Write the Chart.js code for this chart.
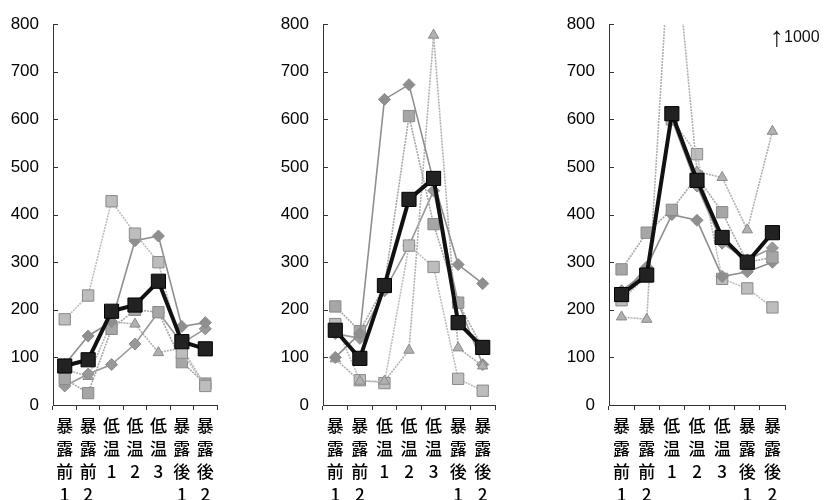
<!DOCTYPE html>
<html>
<head>
<meta charset="utf-8">
<script src="https://cdn.jsdelivr.net/npm/chart.js@4.4.0/dist/chart.umd.min.js"></script>
<style>
  html, body { margin: 0; padding: 0; background: #fff; }
  body { width: 828px; height: 500px; position: relative; overflow: hidden; }
  canvas { position: absolute; top: 0; }
  #note { position: absolute; left: 770px; top: 22px; color: #111; font-family: 'Liberation Sans', Arial, sans-serif; white-space: nowrap; }
  #note .arr { font-size: 28px; line-height: 30px; vertical-align: -4px; }
  #note .num { font-size: 16px; }
</style>
</head>
<body>
<canvas id="c1" width="228" height="500" style="left:0px"></canvas>
<canvas id="c2" width="236" height="500" style="left:270px"></canvas>
<canvas id="c3" width="240" height="500" style="left:556px"></canvas>
<div id="note"><span class="arr">↑</span><span class="num">1000</span></div>
<script>
// categories (one character per line, as in the original)
const categories = ['暴露前1', '暴露前2', '低温1', '低温2', '低温3', '暴露後1', '暴露後2'];
const yTicks = [0, 100, 200, 300, 400, 500, 600, 700, 800];

// panel 1
const p1Mean = [82, 95, 197, 210, 260, 133, 118];
const p1A = [180, 230, 428, 360, 300, 110, 40];
const p1B = [85, 145, 175, 345, 355, 165, 173];
const p1C = [55, 25, 160, 200, 195, 90, 45];
const p1D = [40, 65, 85, 128, 195, 130, 160];
const p1E = [75, 60, 175, 170, 110, 120, 40];

// panel 2
const p2Mean = [157, 98, 251, 432, 476, 173, 121];
const p2A = [100, 150, 642, 673, 470, 295, 255];
const p2B = [207, 155, 250, 607, 380, 215, 120];
const p2C = [97, 50, 50, 115, 777, 120, 82];
const p2D = [170, 52, 46, 335, 290, 55, 30];
const p2E = [150, 140, 240, 335, 450, 215, 85];

// panel 3 (one subject goes past the top, about 1000)
const p3Mean = [232, 273, 612, 472, 352, 300, 362];
const p3A = [185, 180, 1050, 490, 478, 368, 575];
const p3B = [285, 362, 410, 480, 405, 300, 310];
const p3C = [230, 290, 400, 388, 270, 280, 300];
const p3D = [220, 270, 600, 527, 265, 245, 205];
const p3E = [240, 280, 600, 460, 340, 305, 330];

const numFont = "'Liberation Sans', Arial, sans-serif";
const cjkFont = "'Noto Sans CJK JP', 'Noto Sans CJK SC', sans-serif";

const styles = [
  { color: '#bdbdbd', point: 'rect', r: 8, dash: [2, 1] },
  { color: '#8f8f8f', point: 'rectRot', r: 6, dash: [] },
  { color: '#a6a6a6', point: 'rect', r: 8, dash: [2, 1] },
  { color: '#999999', point: 'rectRot', r: 6, dash: [] },
  { color: '#b0b0b0', point: 'triangle', r: 6, dash: [2, 1] },
];

// y ticks point inward, into the plot
const innerTicks = {
  id: 'innerTicks',
  afterDraw(chart) {
    const y = chart.scales.y, ctx = chart.ctx, x0 = chart.chartArea.left;
    ctx.save();
    ctx.strokeStyle = '#333';
    ctx.lineWidth = 1;
    y.ticks.forEach(t => {
      const py = Math.round(y.getPixelForValue(t.value)) + 0.5;
      ctx.beginPath();
      ctx.moveTo(x0, py);
      ctx.lineTo(x0 + 5, py);
      ctx.stroke();
    });
    ctx.restore();
  }
};

function makePanel(id, mean, series, greyStyles) {
  const datasets = [{
    data: mean,
    borderColor: '#111',
    backgroundColor: '#222',
    borderWidth: 4,
    pointStyle: 'rect',
    pointRadius: 10,
    pointBorderColor: '#000',
    pointBorderWidth: 1,
    tension: 0,
  }];
  series.forEach((s, i) => {
    const st = greyStyles[i];
    datasets.push({
      data: s,
      borderColor: st.color,
      backgroundColor: st.color,
      borderWidth: 1.6,
      borderDash: st.dash,
      pointStyle: st.point,
      pointRadius: st.r,
      pointBorderColor: '#8a8a8a',
      pointBorderWidth: 1,
      tension: 0,
    });
  });

  return new Chart(document.getElementById(id), {
    type: 'line',
    data: { labels: categories.map(c => c.split('')), datasets },
    options: {
      responsive: false,
      animation: false,
      layout: { padding: { top: 22, right: 8, left: 0, bottom: 0 } },
      plugins: { legend: { display: false }, tooltip: { enabled: false } },
      scales: {
        x: {
          offset: true,
          grid: { offset: true, drawOnChartArea: false, tickLength: 5, color: '#333' },
          border: { color: '#333' },
          ticks: {
            autoSkip: false, maxRotation: 0, minRotation: 0, padding: 4,
            color: '#000',
            font: { family: cjkFont, size: 17, weight: '500', lineHeight: 1.36 },
          },
          afterFit: s => { s.height = 95; },
        },
        y: {
          min: 0, max: 800,
          afterBuildTicks: s => { s.ticks = yTicks.map(v => ({ value: v })); },
          grid: { drawOnChartArea: false, drawTicks: false },
          border: { color: '#333' },
          ticks: { padding: 14, color: '#000', font: { family: numFont, size: 17 } },
          afterFit: s => { s.width = 53; },
        },
      },
    },
    plugins: [innerTicks],
  });
}

makePanel('c1', p1Mean, [p1A, p1B, p1C, p1D, p1E], styles);
makePanel('c2', p2Mean, [p2A, p2B, p2C, p2D, p2E], [styles[1], styles[2], styles[4], styles[0], styles[3]]);
makePanel('c3', p3Mean, [p3A, p3B, p3C, p3D, p3E], [styles[4], styles[2], styles[1], styles[0], styles[3]]);
</script>
</body>
</html>
